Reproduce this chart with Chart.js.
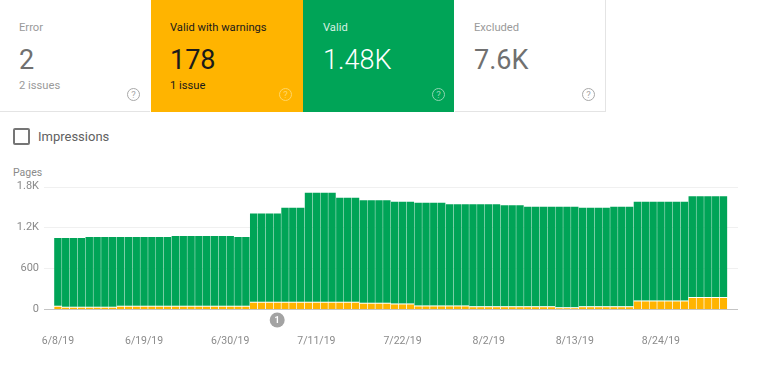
<!DOCTYPE html>
<html>
<head>
<meta charset="utf-8">
<script src="https://cdn.jsdelivr.net/npm/chart.js@4"></script>
<style>
  html, body { margin: 0; padding: 0; background: #fff; }
  body { width: 768px; height: 369px; position: relative; overflow: hidden; font-family: Roboto, sans-serif; filter: blur(0.35px); }
  .card { position: absolute; top: 0; height: 111px; box-sizing: content-box; }
  .card .title { position: absolute; left: 19px; top: 20px; font-size: 11.2px; line-height: 15px; }
  .card .value { position: absolute; left: 19px; top: 42px; font-size: 27px; line-height: 36px; }
  .card .sub { position: absolute; left: 19px; top: 78px; font-size: 11.2px; line-height: 15px; }
  .card .help { position: absolute; right: 10px; top: 88px; width: 11px; height: 11px; border: 1.3px solid; border-radius: 50%;
    font-size: 9.5px; line-height: 11px; text-align: center; }
  .light { color: #707070; }
  .light .title, .light .sub { color: #9a9a9a; }
  .light .help { color: #a8a8a8; }
  #error { left: 0; width: 150px; border-bottom: 1px solid #e4e4e4; }
  #warn { left: 151px; width: 152px; height: 112px; background: #ffb400; color: #1a1a1a; }
  #warn .help { color: #ffd666; right: 11px; }
  #valid { left: 303px; width: 151px; height: 112px; background: #00a457; color: #fff; }
  #valid .title { color: #d5f0e2; left: 20px; }
  #valid .value { left: 20px; font-weight: 300; }
  #valid .help { color: #8fd6b2; right: 9px; }
  #excluded { left: 455px; width: 150px; border-right: 1px solid #e4e4e4; border-bottom: 1px solid #e4e4e4; }
  #box { position: absolute; left: 13px; top: 128px; width: 13px; height: 13px; border: 2px solid #757575; border-radius: 2px; }
  #imp { position: absolute; left: 38px; top: 128px; font-size: 13px; line-height: 17px; color: #616161; }
  #pages { position: absolute; left: 13px; top: 166px; font-size: 10.5px; line-height: 13px; color: #8a8a8a; }
  #chart1 { position: absolute; left: 0; top: 165px; }
</style>
</head>
<body>
<div class="card light" id="error"><div class="title">Error</div><div class="value">2</div><div class="sub">2 issues</div><div class="help">?</div></div>
<div class="card" id="warn"><div class="title">Valid with warnings</div><div class="value">178</div><div class="sub">1 issue</div><div class="help">?</div></div>
<div class="card" id="valid"><div class="title">Valid</div><div class="value">1.48K</div><div class="help">?</div></div>
<div class="card light" id="excluded"><div class="title">Excluded</div><div class="value">7.6K</div><div class="help">?</div></div>
<div id="box"></div>
<div id="imp">Impressions</div>
<div id="pages">Pages</div>
<canvas id="chart1" width="768" height="204"></canvas>

<script>
const dates_list = [
  "6/8/19","6/9/19","6/10/19","6/11/19","6/12/19","6/13/19","6/14/19","6/15/19","6/16/19","6/17/19","6/18/19",
  "6/19/19","6/20/19","6/21/19","6/22/19","6/23/19","6/24/19","6/25/19","6/26/19","6/27/19","6/28/19","6/29/19",
  "6/30/19","7/1/19","7/2/19","7/3/19","7/4/19","7/5/19","7/6/19","7/7/19","7/8/19","7/9/19","7/10/19",
  "7/11/19","7/12/19","7/13/19","7/14/19","7/15/19","7/16/19","7/17/19","7/18/19","7/19/19","7/20/19","7/21/19",
  "7/22/19","7/23/19","7/24/19","7/25/19","7/26/19","7/27/19","7/28/19","7/29/19","7/30/19","7/31/19","8/1/19",
  "8/2/19","8/3/19","8/4/19","8/5/19","8/6/19","8/7/19","8/8/19","8/9/19","8/10/19","8/11/19","8/12/19",
  "8/13/19","8/14/19","8/15/19","8/16/19","8/17/19","8/18/19","8/19/19","8/20/19","8/21/19","8/22/19","8/23/19",
  "8/24/19","8/25/19","8/26/19","8/27/19","8/28/19","8/29/19","8/30/19","8/31/19","9/1/19"
];

const warnings_list = [
  48,34,34,34,34,34,34,34,48,48,48,48,48,48,48,48,48,48,48,48,48,48,48,48,48,
  106,106,106,106,106,106,106,106,106,106,106,106,106,106,
  92,92,92,92,82,82,82,53,53,53,53,53,53,53,
  39,39,39,39,39,39,39,39,39,39,39,25,25,25,39,39,39,39,39,39,39,
  126,126,126,126,126,126,126,178,178,178,178,178
];

const valid_list = [
  997,1011,1011,1011,1026,1026,1026,1026,1012,1012,1012,1012,1012,1012,1012,
  1027,1027,1027,1027,1027,1027,1027,1027,1012,1012,
  1298,1298,1298,1298,1384,1384,1384,1604,1604,1604,1604,1530,1530,1530,
  1508,1508,1508,1508,1496,1496,1496,1510,1510,1510,1510,1486,1486,1486,
  1500,1500,1500,1500,1486,1486,1486,1466,1466,1466,1466,1480,1480,1480,
  1451,1451,1451,1451,1466,1466,1466,
  1452,1452,1452,1452,1452,1452,1452,1480,1480,1480,1480,1480
];

const y_ticks = { 0: "0", 600: "600", 1200: "1.2K", 1800: "1.8K" };
const label_every = 11;
const note_index = 28;
const note_text = "1";

// lines run a bit wider than the bars, so they are drawn here and not by the grid
const sideLines = {
  id: "sideLines",
  beforeDatasetsDraw(chart) {
    const c = chart.ctx;
    const y = chart.scales.y;
    Object.keys(y_ticks).forEach(v => {
      const py = Math.round(y.getPixelForValue(+v)) + 0.5;
      c.save();
      c.strokeStyle = +v === 0 ? "#c4c4c4" : "#f0f0f0";
      c.beginPath();
      c.moveTo(44, py);
      c.lineTo(738, py);
      c.stroke();
      c.restore();
    });
  },
  afterDraw(chart) {
    const c = chart.ctx;
    const px = chart.scales.x.getPixelForValue(note_index);
    const py = chart.scales.y.getPixelForValue(0) + 11;
    c.save();
    c.fillStyle = "#a3a3a3";
    c.beginPath();
    c.arc(px, py, 7.5, 0, Math.PI * 2);
    c.fill();
    c.fillStyle = "#fff";
    c.font = "bold 9px Roboto";
    c.textAlign = "center";
    c.textBaseline = "middle";
    c.fillText(note_text, px, py + 0.5);
    c.restore();
  }
};

new Chart(document.getElementById("chart1").getContext("2d"), {
  type: "bar",
  plugins: [sideLines],
  data: {
    labels: dates_list,
    datasets: [
      {
        label: "Valid with warnings",
        data: warnings_list,
        backgroundColor: "#ffb400",
        borderColor: "rgba(255,255,255,0.75)",
        borderWidth: { top: 1 },
        borderSkipped: false,
        barPercentage: 0.95,
        categoryPercentage: 1,
        stack: "pages",
      },
      {
        label: "Valid",
        data: valid_list,
        backgroundColor: "#00a457",
        barPercentage: 0.95,
        categoryPercentage: 1,
        stack: "pages",
      },
    ],
  },
  options: {
    responsive: false,
    animation: false,
    layout: { padding: { top: 20, right: 40.5, left: 0, bottom: 0 } },
    plugins: { legend: { display: false }, tooltip: { enabled: false } },
    scales: {
      x: {
        stacked: true,
        grid: { display: false, drawTicks: false },
        border: { display: false },
        afterFit(scale) { scale.height = 60; },
        ticks: {
          autoSkip: false,
          maxRotation: 0,
          padding: 26,
          color: "#8a8a8a",
          font: { family: "Roboto", size: 10.5 },
          callback(value, index) {
            return index % label_every === 0 ? dates_list[index] : "";
          },
        },
      },
      y: {
        stacked: true,
        min: 0,
        max: 1800,
        grid: { display: false, drawTicks: false },
        border: { display: false },
        afterFit(scale) { scale.width = 54; },
        ticks: {
          stepSize: 600,
          padding: 15,
          color: "#8a8a8a",
          font: { family: "Roboto", size: 11 },
          callback(value) { return y_ticks[value]; },
        },
      },
    },
  },
});
</script>
</body>
</html>
